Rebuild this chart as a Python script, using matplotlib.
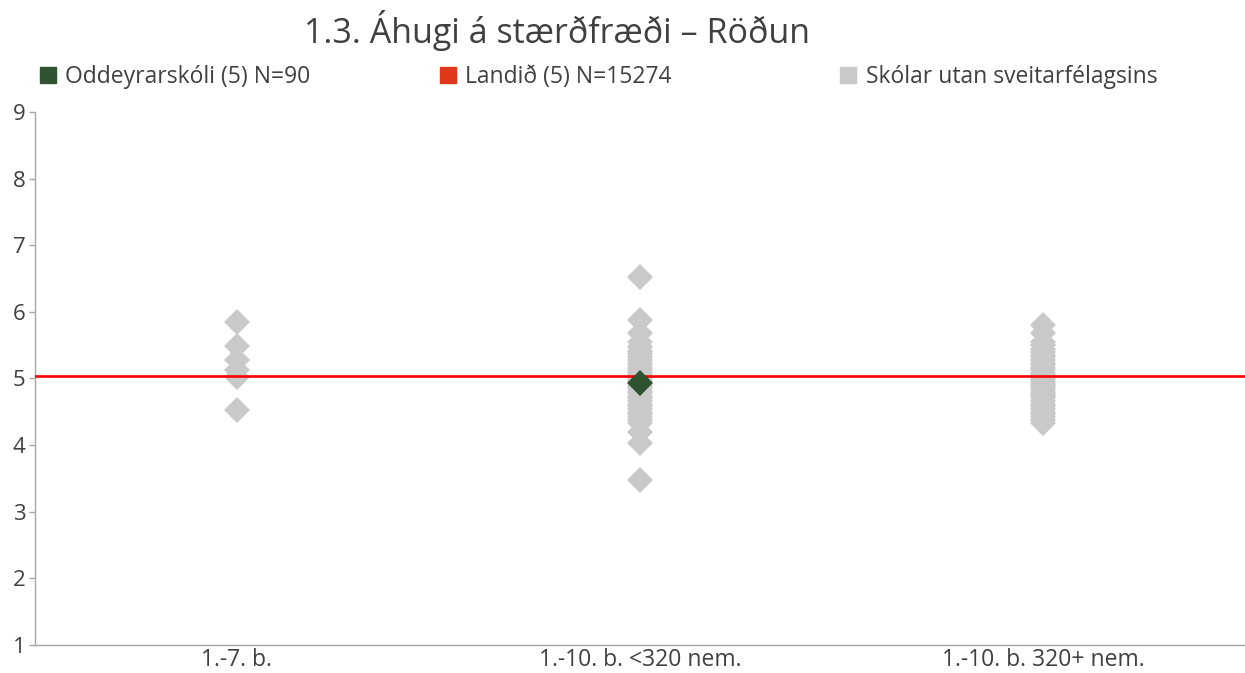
import matplotlib
matplotlib.use('Agg')
import matplotlib.pyplot as plt
from matplotlib.lines import Line2D

plt.rcParams['font.family'] = ['Open Sans', 'DejaVu Sans']

categories = ['1.-7. b.', '1.-10. b. <320 nem.', '1.-10. b. 320+ nem.']

# other schools (grey diamonds), per category
others_1 = [5.85, 5.49, 5.28, 5.13, 5.02, 4.53]
others_2 = [6.53, 5.88, 5.68, 5.55, 5.48, 5.42, 5.37, 5.33, 5.28, 5.24, 5.2, 5.16,
            5.12, 5.08, 5.05, 5.02, 4.98, 4.95, 4.92, 4.88, 4.85, 4.81, 4.78, 4.74,
            4.7, 4.66, 4.62, 4.58, 4.54, 4.5, 4.46, 4.42, 4.38, 4.33, 4.2, 4.03, 3.47]
others_3 = [5.8, 5.68, 5.55, 5.5, 5.45, 5.4, 5.36, 5.32, 5.28, 5.24, 5.2, 5.16,
            5.12, 5.08, 5.05, 5.02, 4.99, 4.96, 4.93, 4.9, 4.87, 4.84, 4.8, 4.77,
            4.73, 4.7, 4.66, 4.62, 4.58, 4.54, 4.5, 4.46, 4.42, 4.38, 4.33]
others = [others_1, others_2, others_3]

school_cat = 1
school_value = 4.93
national = 5.04

legend_labels = ['Oddeyrarskóli (5) N=90', 'Landið (5) N=15274', 'Skólar utan sveitarfélagsins']
title = '1.3. Áhugi á stærðfræði – Röðun'

grey = '#C9C9C9'
green = '#2F5230'
red_leg = '#E0381A'

fig = plt.figure(figsize=(12.45, 6.73), dpi=100)
ax = fig.add_axes([0.0281, 0.0416, 0.9719, 0.792])

for i, vals in enumerate(others):
    ax.plot([i + 0.5] * len(vals), vals, linestyle='none', marker='D',
            markersize=13.5, color=grey, markeredgewidth=0, zorder=2)

ax.axhline(national, color='#FF0000', lw=1.9, zorder=3)
ax.plot([school_cat + 0.5], [school_value], linestyle='none', marker='D',
        markersize=13.5, color=green, markeredgewidth=0, zorder=4)

ax.set_xlim(0, 3)
ax.set_ylim(1, 9)
ax.set_yticks(range(1, 10))
ax.set_xticks([0.5, 1.5, 2.5])
ax.set_xticklabels(categories)
ax.tick_params(axis='x', length=0, labelsize=16.5, colors='#404040', pad=2)
ax.tick_params(axis='y', length=4, width=1, color='#A6A6A6', labelsize=16,
               labelcolor='#404040', pad=3)
for s in ['top', 'right']:
    ax.spines[s].set_visible(False)
for s in ['left', 'bottom']:
    ax.spines[s].set_color('#A6A6A6')
    ax.spines[s].set_linewidth(1)

fig.text(0.447, 0.955, title, ha='center', va='center', fontsize=24.5, color='#404040')

colors = [green, red_leg, grey]
xpos = [0.033, 0.354, 0.676]
for lab, c, x in zip(legend_labels, colors, xpos):
    h = Line2D([], [], linestyle='none', marker='s', markersize=11, color=c)
    fig.legend([h], [lab], loc='center left', bbox_to_anchor=(x, 0.885),
               frameon=False, fontsize=16.5, handlelength=0.6, handletextpad=0.45,
               labelcolor='#404040', borderaxespad=0, borderpad=0)

fig.savefig('out.png', dpi=100)
